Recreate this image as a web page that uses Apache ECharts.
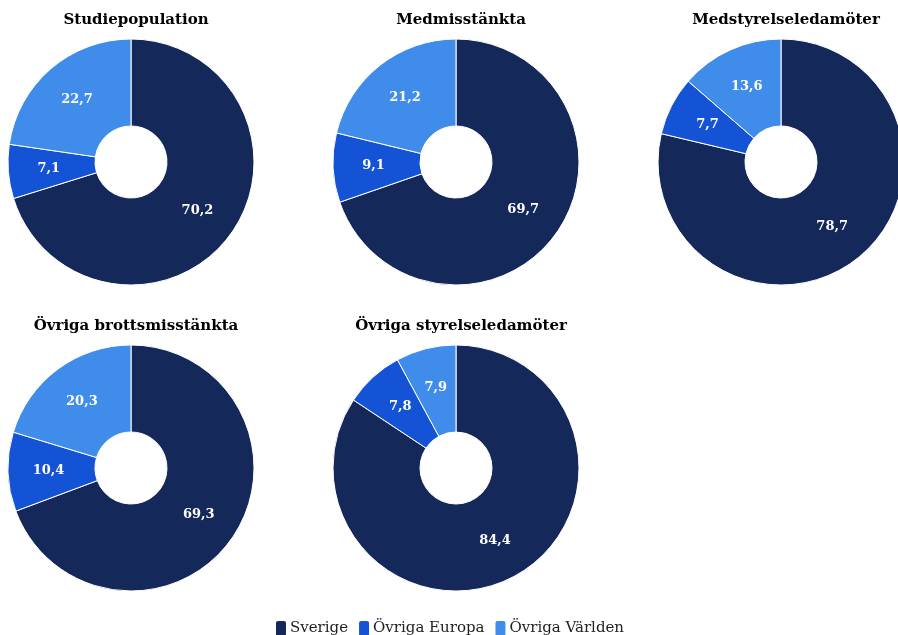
<!DOCTYPE html>
<html>
<head>
<meta charset="utf-8">
<script src="https://cdn.jsdelivr.net/npm/echarts@6/dist/echarts.min.js"></script>
<style>
  html, body { margin: 0; padding: 0; background: #fff; }
  #chart { width: 898px; height: 635px; }
</style>
</head>
<body>
<div id="chart"></div>
<script>
// groups and panels
const groups = ["Sverige", "Övriga Europa", "Övriga Världen"];
const titles = [
  "Studiepopulation",
  "Medmisstänkta",
  "Medstyrelseledamöter",
  "Övriga brottsmisstänkta",
  "Övriga styrelseledamöter",
];
// share per group in each panel (%)
const sverige = [70.2, 69.7, 78.7, 69.3, 84.4];
const europa = [7.1, 9.1, 7.7, 10.4, 7.8];
const varlden = [22.7, 21.2, 13.6, 20.3, 7.9];

const colors = ["#15285a", "#1553d6", "#3f8ceb"];
const centers = [[131, 162], [456, 162], [781, 162], [131, 468], [456, 468]];
const serif = "'DejaVu Serif', 'Liberation Serif', serif";

const chart = echarts.init(document.getElementById("chart"));

const title = titles.map((t, i) => ({
  text: t,
  left: centers[i][0],
  top: centers[i][1] - 154,
  textAlign: "center",
  textStyle: { fontFamily: serif, fontWeight: "bold", fontSize: 15, color: "#000" },
}));

const series = titles.map((t, i) => ({
  name: t,
  type: "pie",
  center: centers[i],
  radius: [36, 123],
  startAngle: 90,
  clockwise: true,
  avoidLabelOverlap: false,
  itemStyle: { borderColor: "#fff", borderWidth: 1 },
  label: {
    show: true,
    position: "inside",
    color: "#fff",
    fontFamily: serif,
    fontWeight: "bold",
    fontSize: 13,
    formatter: (p) => String(p.value).replace(".", ","),
  },
  labelLine: { show: false },
  emphasis: { disabled: true },
  data: [
    { name: groups[0], value: sverige[i] },
    { name: groups[1], value: europa[i] },
    { name: groups[2], value: varlden[i] },
  ],
}));

chart.setOption({
  animation: false,
  color: colors,
  title: title,
  legend: {
    top: 614,
    left: "center",
    data: groups,
    icon: "roundRect",
    itemWidth: 12,
    itemHeight: 17,
    itemGap: 9,
    textStyle: { fontFamily: serif, fontSize: 15, color: "#222", padding: [0, 0, 0, -2] },
  },
  series: series,
});
</script>
</body>
</html>
